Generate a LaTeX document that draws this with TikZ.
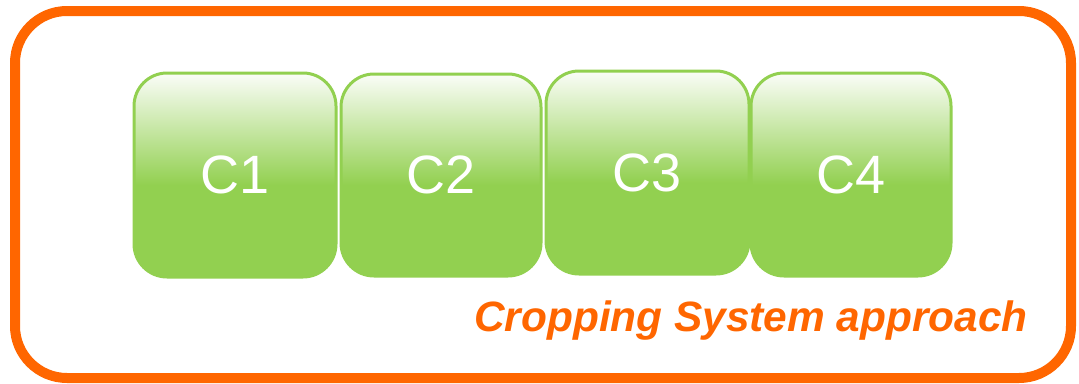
\documentclass[tikz,border=0pt]{standalone}
\usepackage{fontspec}
\setmainfont{Liberation Sans}
\definecolor{orng}{HTML}{FF6600}
\definecolor{grn}{HTML}{92D050}
\pgfdeclareverticalshading{greenshade}{100bp}{color(0bp)=(grn); color(47.5bp)=(grn); color(75bp)=(grn!4!white); color(100bp)=(grn!4!white)}
\tikzset{
  cbox/.style={draw=grn, line width=3pt, rounded corners=33pt, shading=greenshade,
    text=white, font=\fontsize{54}{60}\selectfont, inner sep=0pt},
  frame/.style={draw=orng, line width=10pt, rounded corners=52pt},
  caption/.style={text=orng, font=\fontsize{42.4}{48}\selectfont\bfseries\itshape, inner sep=0pt}
}
\begin{document}
\begin{tikzpicture}[x=1pt,y=-1pt]
\useasboundingbox (0,0) rectangle (1079,383);
\draw[frame] (15,11) rectangle (1071,378);
\node[cbox, minimum width=202pt, minimum height=204pt] (c1) at (235,175) {C1};
\node[cbox, minimum width=200pt, minimum height=202pt] (c2) at (441,175) {C2};
\node[cbox, minimum width=203pt, minimum height=203pt] (c3) at (647.5,172.5) {C3};
\node[cbox, minimum width=200pt, minimum height=203pt] (c4) at (851,174.5) {C4};
\node[caption, anchor=base west] (cap) at (474,331) {Cropping System approach};
\end{tikzpicture}
\end{document}
